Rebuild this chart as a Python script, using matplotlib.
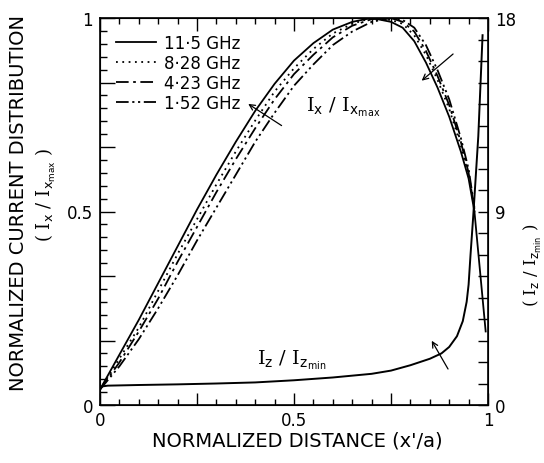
import matplotlib
matplotlib.use('Agg')
import matplotlib.pyplot as plt
import numpy as np

plt.rcParams['font.family'] = ['DejaVu Sans']
plt.rcParams['mathtext.fontset'] = 'custom'
plt.rcParams['mathtext.rm'] = 'DejaVu Serif'
plt.rcParams['mathtext.sf'] = 'DejaVu Sans'
plt.rcParams['mathtext.it'] = 'DejaVu Sans'

# ---- data ----
x_ix = [0, 0.05, 0.1, 0.15, 0.2, 0.25, 0.3, 0.35, 0.4, 0.45, 0.5, 0.55, 0.6, 0.65,
        0.7, 0.75, 0.78, 0.81, 0.84, 0.87, 0.9, 0.93, 0.95, 0.965]
ix_11_5 = [0.04, 0.13, 0.22, 0.315, 0.41, 0.505, 0.595, 0.68, 0.76, 0.83, 0.89, 0.935,
           0.97, 0.99, 1.0, 0.99, 0.975, 0.94, 0.885, 0.82, 0.745, 0.655, 0.585, 0.5]
ix_8_28 = [0.04, 0.12, 0.20, 0.295, 0.39, 0.48, 0.57, 0.655, 0.735, 0.81, 0.87, 0.92,
           0.96, 0.985, 1.0, 0.995, 0.985, 0.955, 0.905, 0.84, 0.765, 0.67, 0.595, 0.505]
ix_4_23 = [0.04, 0.11, 0.19, 0.275, 0.37, 0.46, 0.55, 0.635, 0.715, 0.79, 0.855, 0.905,
           0.95, 0.98, 0.997, 1.0, 0.99, 0.965, 0.915, 0.85, 0.775, 0.68, 0.60, 0.505]
ix_1_52 = [0.04, 0.10, 0.17, 0.25, 0.335, 0.425, 0.51, 0.595, 0.68, 0.755, 0.825, 0.88,
           0.93, 0.965, 0.99, 1.0, 0.995, 0.975, 0.93, 0.865, 0.79, 0.69, 0.61, 0.51]
# tail of the I_x curve below the crossing
x_ix_tail = [0.965, 0.98, 0.994]
ix_tail = [0.5, 0.34, 0.19]

x_iz = [0, 0.02, 0.1, 0.2, 0.3, 0.4, 0.5, 0.6, 0.7, 0.75, 0.8, 0.85, 0.88, 0.9, 0.92,
        0.935, 0.945, 0.95, 0.955, 0.962, 0.975, 0.986]
iz = [0.85, 0.9, 0.93, 0.96, 1.0, 1.05, 1.15, 1.28, 1.45, 1.6, 1.85, 2.15, 2.4, 2.7, 3.2,
      3.9, 4.8, 5.6, 7.0, 8.8, 12.5, 17.2]

labels = ['11·5 GHz', '8·28 GHz', '4·23 GHz', '1·52 GHz']
series = [ix_11_5, ix_8_28, ix_4_23, ix_1_52]
styles = ['-', (0, (1, 2.5)), (0, (7, 2.5, 1.5, 2.5)), (0, (7, 2, 1.2, 2, 1.2, 2))]

xticklabels = ['0', '', '0.5', '', '1']
yticklabels_left = ['0', '', '', '0.5', '', '', '1']
yticklabels_right = ['0', '9', '18']

# ---- figure ----
W, H = 544, 464
fig = plt.figure(figsize=(W / 100, H / 100), dpi=100)
ax = fig.add_axes([100 / W, 58 / H, 388 / W, 387 / H])

for ys, ls, lab in zip(series, styles, labels):
    ax.plot(x_ix, ys, color='black', lw=1.3, linestyle=ls, label=lab)
ax.plot(x_ix_tail, ix_tail, color='black', lw=1.3)

ax.set_xlim(0, 1)
ax.set_ylim(0, 1)

ax.set_xticks([0, 0.25, 0.5, 0.75, 1])
ax.set_xticklabels(xticklabels)
ax.set_xticks(np.linspace(0, 1, 21), minor=True)
ax.set_yticks(np.linspace(0, 1, 7))
ax.set_yticklabels(yticklabels_left)
ax.set_yticks(np.linspace(0, 1, 31), minor=True)
ax.tick_params(which='both', direction='in', top=True, right=False, labelsize=12,
               width=1, colors='black')
ax.tick_params(axis='x', which='major', length=9, pad=4)
ax.tick_params(axis='x', which='minor', length=4)
ax.tick_params(axis='y', which='major', length=11, pad=5)
ax.tick_params(axis='y', which='minor', length=5)
for sp in ax.spines.values():
    sp.set_linewidth(1.2)

ax2 = ax.twinx()
ax2.plot(x_iz, iz, color='black', lw=1.4)
ax2.set_ylim(0, 18)
ax2.set_yticks([0, 9, 18])
ax2.set_yticklabels(yticklabels_right)
ax2.set_yticks(np.arange(0, 19, 1), minor=True)
ax2.tick_params(which='both', direction='in', length=7, width=1, labelsize=12, pad=5)

leg = ax.legend(loc='upper left', bbox_to_anchor=(0.015, 0.985), frameon=False,
                fontsize=12, handlelength=2.4, handletextpad=0.5, labelspacing=0.12,
                borderaxespad=0.2)

ax.text(0.53, 0.773, r'$\mathrm{I}_{\mathsf{x}}\ /\ \mathrm{I}_{\mathsf{x}_{\mathsf{max}}}$',
        fontsize=14, ha='left', va='center')
ax.text(0.405, 0.119, r'$\mathrm{I}_{\mathsf{z}}\ /\ \mathrm{I}_{\mathsf{z}_{\mathsf{min}}}$',
        fontsize=14, ha='left', va='center')

arrow = dict(arrowstyle='->', lw=0.9, color='black', shrinkA=0, shrinkB=0)
ax.annotate('', xy=(0.382, 0.778), xytext=(0.468, 0.722), arrowprops=arrow)
ax.annotate('', xy=(0.829, 0.838), xytext=(0.910, 0.907), arrowprops=arrow)
ax.annotate('', xy=(0.855, 0.166), xytext=(0.897, 0.093), arrowprops=arrow)

fig.text(297 / W, 1 - 441 / H, "NORMALIZED DISTANCE (x'/a)", fontsize=14,
         ha='center', va='center')
fig.text(19 / W, 1 - 203 / H, 'NORMALIZED CURRENT DISTRIBUTION', fontsize=14,
         rotation=90, ha='center', va='center')
fig.text(46 / W, 1 - 195 / H,
         r'$(\ \mathrm{I}_{\mathsf{x}}\ /\ \mathrm{I}_{\mathsf{x}_{\mathsf{max}}}\ )$',
         fontsize=13, rotation=90, ha='center', va='center')
fig.text(533 / W, 1 - 265 / H,
         r'$(\ \mathrm{I}_{\mathsf{z}}\ /\ \mathrm{I}_{\mathsf{z}_{\mathsf{min}}}\ )$',
         fontsize=12, rotation=90, ha='center', va='center')

fig.savefig('out.png', dpi=100)
